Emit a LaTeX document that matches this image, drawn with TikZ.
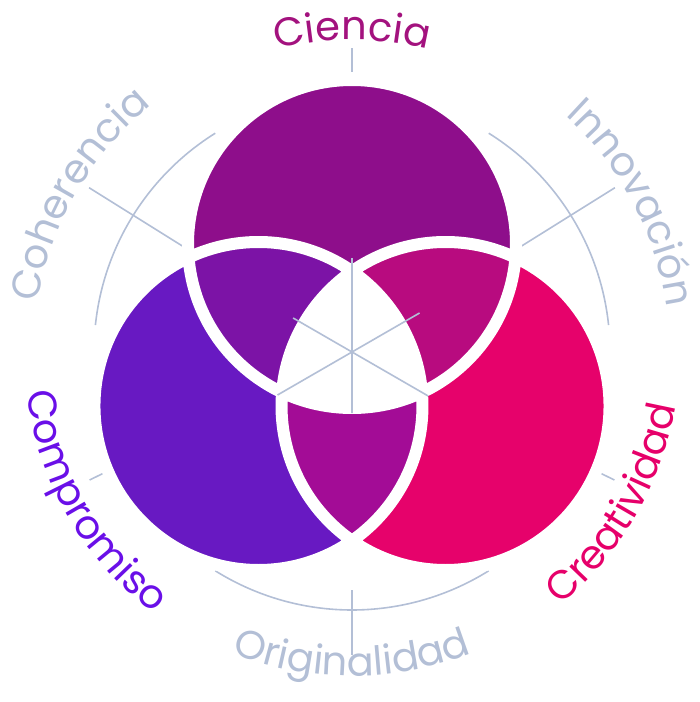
\documentclass[tikz,border=0pt]{standalone}
\usepackage{fontspec}
\setmainfont{Poppins}
\usetikzlibrary{decorations.text}
\definecolor{cT}{HTML}{8E0E8B}
\definecolor{cL}{HTML}{6819C2}
\definecolor{cR}{HTML}{E6026B}
\definecolor{cTL}{HTML}{7C13A6}
\definecolor{cTR}{HTML}{B80B7F}
\definecolor{cB}{HTML}{A30C96}
\definecolor{gr}{HTML}{B3BFD6}
\definecolor{tC}{HTML}{A3127E}
\definecolor{tP}{HTML}{6A0FE8}
\definecolor{tR}{HTML}{E6006A}
\begin{document}
\begin{tikzpicture}[x=1pt,y=1pt,
  guide/.style={gr,line width=1.6pt},
  lab/.style 2 args={decorate,decoration={text along path,text align=center,
     text color=#1,text={|\fontsize{40}{40}\selectfont|#2}}}]
\useasboundingbox (-352,-350) rectangle (348,352);
\def\R{164}
\def\D{108}
\coordinate (T) at (90:\D);
\coordinate (L) at (210:\D);
\coordinate (Rr) at (330:\D);
% guides
\draw[guide] (122:258) arc[start angle=122,end angle=174,radius=258];
\draw[guide] (58:258) arc[start angle=58,end angle=6,radius=258];
\draw[guide] (238:258) arc[start angle=238,end angle=302,radius=258];
\draw[guide] (90:280) -- (90:304);
\draw[guide] (206:262) -- (206:292);
\draw[guide] (334:262) -- (334:292);
\draw[guide] (270:238) -- (270:303);
\draw[guide] (148:310) -- (148:200);
\draw[guide] (32:310) -- (32:200);
% circles
\fill[cT] (T) circle (\R);
\fill[cL] (L) circle (\R);
\fill[cR] (Rr) circle (\R);
\begin{scope}\clip (T) circle (\R); \fill[cTL] (L) circle (\R); \fill[cTR] (Rr) circle (\R);\end{scope}
\begin{scope}\clip (L) circle (\R); \fill[cB] (Rr) circle (\R);\end{scope}
\begin{scope}\clip (T) circle (\R); \clip (L) circle (\R); \fill[white] (Rr) circle (\R);\end{scope}
\draw[white,line width=12pt] (T) circle (\R) (L) circle (\R) (Rr) circle (\R);
% centre rays
\coordinate (O) at (0,0);
\draw[guide] (O) -- (90:94) (O) -- (270:61) (O) -- (150:68) (O) -- (30:78)
  (O) -- (210:86) (O) -- (330:88);
% labels
\path[lab={tC}{Ciencia}] (130:312) arc[start angle=130,end angle=50,radius=312];
\path[lab={gr}{Innovación}] (68:318) arc[start angle=68,end angle=-12,radius=318];
\path[lab={gr}{Coherencia}] (190:318) arc[start angle=190,end angle=110,radius=318];
\path[lab={gr}{Originalidad}] (225:324) arc[start angle=225,end angle=315,radius=324];
\path[lab={tR}{Creatividad}] (-75:328) arc[start angle=-75,end angle=15,radius=328];
\path[lab={tP}{Compromiso}] (165:328) arc[start angle=165,end angle=255,radius=328];
\end{tikzpicture}
\end{document}
